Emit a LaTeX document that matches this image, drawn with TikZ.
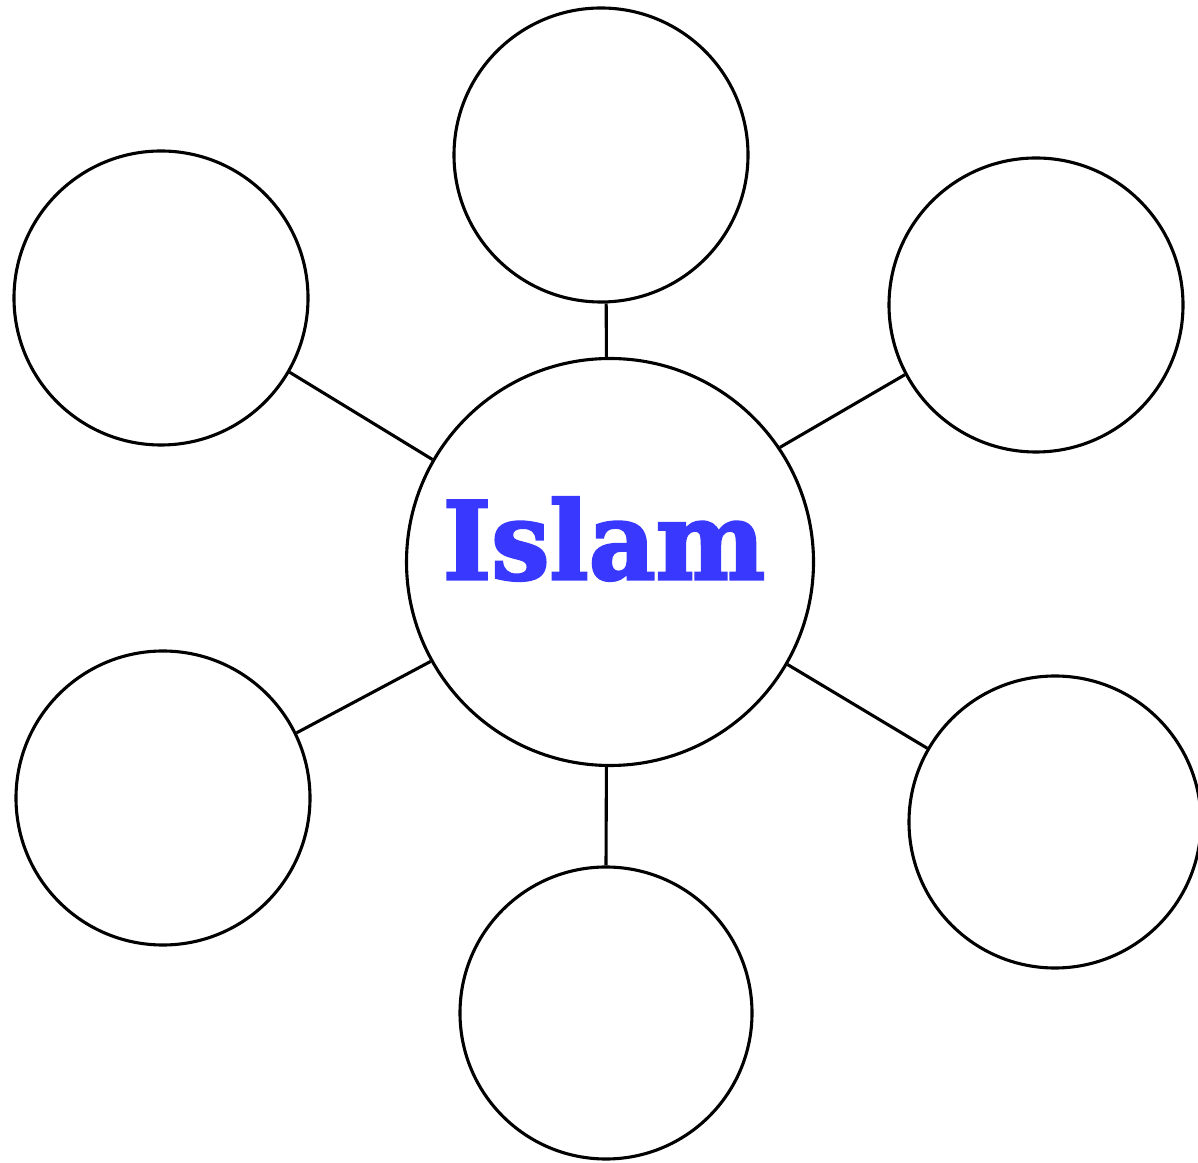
\documentclass[tikz,border=0pt]{standalone}
\usepackage{fontspec}
\newfontfamily\titlefont[BoldFeatures={FakeBold=2.5}]{DejaVu Serif}
\definecolor{islamblue}{HTML}{3838FF}
\begin{document}
\begin{tikzpicture}[x=1pt,y=1pt,
  bubble/.style={draw,circle,line width=3.1pt,inner sep=0pt,minimum size=#1},
  link/.style={line width=3.1pt}]
\useasboundingbox (0,0) rectangle (1198,1162);
\node[bubble=407pt] (c) at (610,600) {};
\node[bubble=294pt] (t) at (601,1007) {};
\node[bubble=294pt] (tl) at (161,864) {};
\node[bubble=294pt] (tr) at (1036,857) {};
\node[bubble=294pt] (bl) at (163,364) {};
\node[bubble=292pt] (br) at (1055,340) {};
\node[bubble=292pt] (b) at (606,149) {};
\node[text=islamblue,inner sep=0pt] (lbl) at (604,623)
  {\resizebox{322pt}{82pt}{\titlefont\bfseries Islam}};
\draw[link] (c.91) -- (t.-88);
\draw[link] (c.150) -- (tl.-30);
\draw[link] (c.34) -- (tr.208);
\draw[link] (c.209) -- (bl.26);
\draw[link] (c.-30) -- (br.150);
\draw[link] (c.-91) -- (b.90);
\end{tikzpicture}
\end{document}
